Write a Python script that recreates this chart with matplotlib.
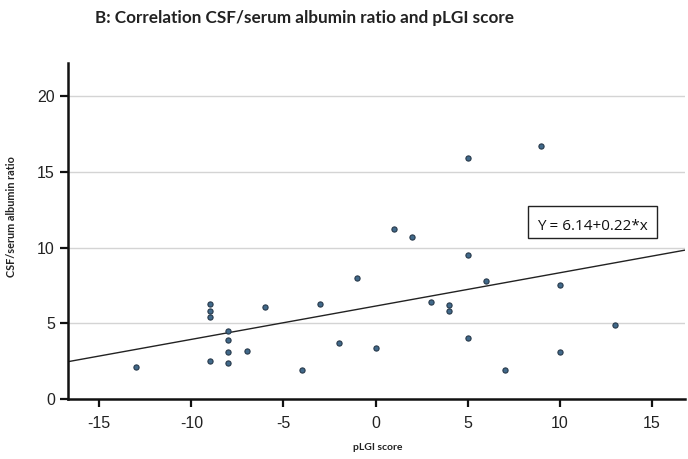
import matplotlib
matplotlib.use("Agg")
import matplotlib.pyplot as plt
import numpy as np

plgi = [-13, -9, -9, -9, -9, -8, -8, -8, -8, -7, -6, -4, -3, -2, -1, 0, 1, 2, 3,
        4, 4, 5, 5, 5, 6, 7, 9, 10, 10, 13]
ratio = [2.1, 6.3, 5.8, 5.4, 2.5, 4.5, 3.9, 3.1, 2.4, 3.2, 6.1, 1.9, 6.3, 3.7, 8.0,
         3.4, 11.2, 10.7, 6.4, 6.2, 5.8, 15.9, 9.5, 4.0, 7.8, 1.9, 16.7, 7.5, 3.1, 4.9]
intercept = 6.14
slope = 0.22
x_ticks = [-15, -10, -5, 0, 5, 10, 15]
y_ticks = [0, 5, 10, 15, 20]

plt.rcParams["axes.unicode_minus"] = False

fig = plt.figure(figsize=(6.88, 4.59), dpi=100)
ax = fig.add_axes([68/688, 1-399/459, (685-68)/688, (399-63)/459])
xlim = (-16.7, 16.8)
ax.set_xlim(*xlim)
ax.set_ylim(0, 22.2)

ax.set_yticks(y_ticks)
ax.set_xticks(x_ticks)
for y in y_ticks[1:]:
    ax.axhline(y, color="#d4d4d4", lw=1.0, zorder=0)

xs = np.array(xlim)
ax.plot(xs, intercept + slope*xs, color="#222222", lw=1.0, zorder=2)
ax.scatter(plgi, ratio, s=14, color="#41698a", edgecolor="#26384a", linewidth=0.8, zorder=3)

for s in ["top", "right"]:
    ax.spines[s].set_visible(False)
for s in ["left", "bottom"]:
    ax.spines[s].set_linewidth(1.8)
    ax.spines[s].set_color("#111111")
ax.tick_params(axis="both", direction="out", length=6, width=1.6, color="#111111",
               labelsize=11.5, labelcolor="#222222")
for lab in ax.get_xticklabels() + ax.get_yticklabels():
    lab.set_family("Liberation Sans")
ax.tick_params(axis="x", pad=6)

t = ax.text(592, 459-226, "Y = 6.14+0.22*x", transform=None, fontsize=11, family="Open Sans",
            ha="center", va="center", color="#111111")
box = plt.Rectangle((528, 459-238), 129, 32, transform=None, fill=False, ec="#222222", lw=1.0)
fig.patches.append(box)

fig.text(95/688, 1-18/459, "B: Correlation CSF/serum albumin ratio and pLGI score",
         fontsize=12.3, fontweight="bold", family="Lato", ha="left", va="center", color="#222222")
fig.text(378/688, 1-448/459, "pLGI score", fontsize=7.5, fontweight="bold", family="Lato",
         ha="center", va="center", color="#222222")
fig.text(12/688, 1-217/459, "CSF/serum albumin ratio", fontsize=7.8, fontweight="bold", family="Lato",
         ha="center", va="center", rotation=90, color="#222222")

fig.savefig("out.png", dpi=100)
